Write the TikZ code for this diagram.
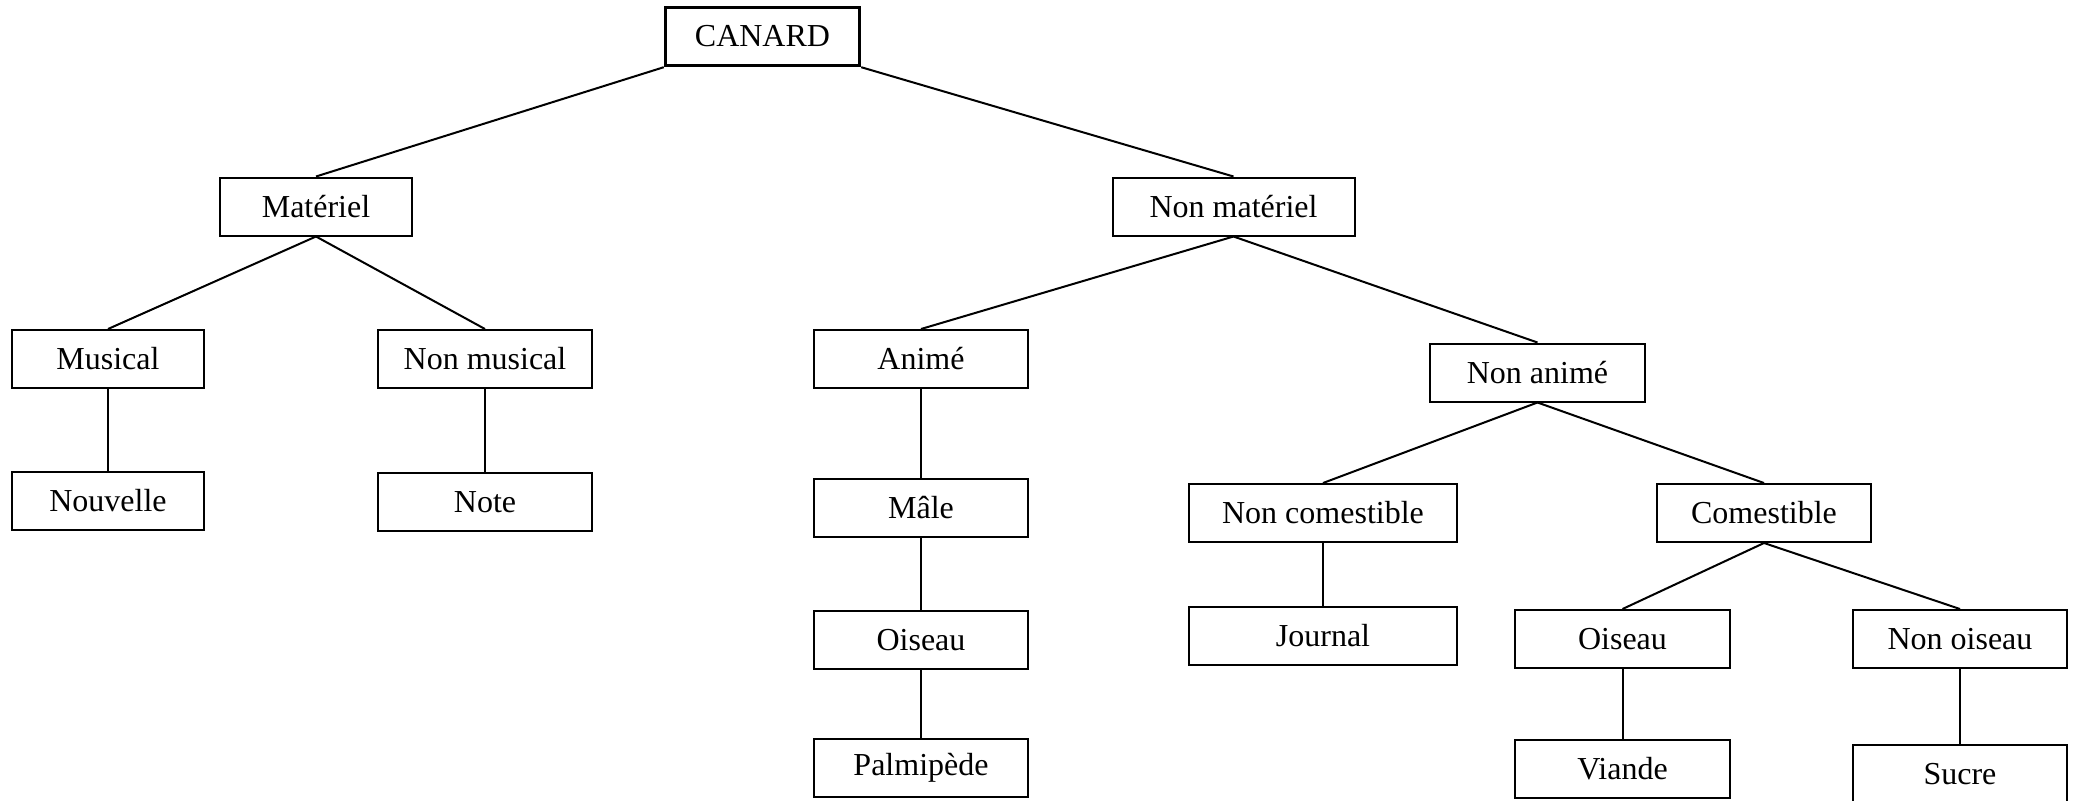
\documentclass[tikz,border=0pt]{standalone}
\usepackage{fontspec}
\setmainfont{Liberation Serif}
\usetikzlibrary{positioning}

\begin{document}
\begin{tikzpicture}[x=0.5pt, y=-0.5pt,
    every node/.style={font=\fontsize{16}{19}\selectfont},
    box/.style={draw, line width=1pt, minimum height=29pt, inner sep=0pt},
    rootbox/.style={box, line width=1.7pt},
    link/.style={line width=1pt}]

  % ---- Frame ----
  \useasboundingbox (0,0) rectangle (2078,800);

  % ---- Root ----
  \node[rootbox, minimum width=97pt] (canard) at (762.5,36.5) {CANARD};

  % ---- Level 1 ----
  \node[box, minimum width=96pt]  (materiel)    at (316,206.5)    {Matériel};
  \node[box, minimum width=121pt] (nonmateriel) at (1233.5,206.5) {Non matériel};

  % ---- Materiel branch ----
  \node[box, minimum width=96pt]  (musical)    at (108,359) {Musical};
  \node[box, minimum width=107pt] (nonmusical) at (485,359) {Non musical};
  \node[box, minimum width=96pt]  (nouvelle)   at (108,501) {Nouvelle};
  \node[box, minimum width=107pt] (note)       at (485,502) {Note};

  % ---- Anime branch ----
  \node[box, minimum width=107pt] (anime)     at (921,359)   {Animé};
  \node[box, minimum width=107pt] (male)      at (921,507.5) {Mâle};
  \node[box, minimum width=107pt] (oiseau)    at (921,640)   {Oiseau};
  \node[box, minimum width=107pt] (palmipede) at (921,767.5) {Palmipède};

  % ---- Non anime branch ----
  \node[box, minimum width=107.5pt] (nonanime)      at (1537.5,372.5) {Non animé};
  \node[box, minimum width=134pt]   (noncomestible) at (1323,513)     {Non comestible};
  \node[box, minimum width=107pt]   (comestible)    at (1764,513)     {Comestible};
  \node[box, minimum width=134pt]   (journal)       at (1323,636)     {Journal};
  \node[box, minimum width=107.5pt] (oiseaub)       at (1622.5,639)   {Oiseau};
  \node[box, minimum width=107pt]   (nonoiseau)     at (1960,639)     {Non oiseau};
  \node[box, minimum width=107.5pt] (viande)        at (1622.5,769)   {Viande};
  \node[box, minimum width=107pt]   (sucre)         at (1960,774)     {Sucre};

  % ---- Links ----
  \draw[link] (canard.south west) -- (materiel.north);
  \draw[link] (canard.south east) -- (nonmateriel.north);

  \draw[link] (materiel.south) -- (musical.north);
  \draw[link] (materiel.south) -- (nonmusical.north);
  \draw[link] (musical) -- (nouvelle);
  \draw[link] (nonmusical) -- (note);

  \draw[link] (nonmateriel.south) -- (anime.north);
  \draw[link] (nonmateriel.south) -- (nonanime.north);
  \draw[link] (anime) -- (male);
  \draw[link] (male) -- (oiseau);
  \draw[link] (oiseau) -- (palmipede);

  \draw[link] (nonanime.south) -- (noncomestible.north);
  \draw[link] (nonanime.south) -- (comestible.north);
  \draw[link] (noncomestible) -- (journal);
  \draw[link] (comestible.south) -- (oiseaub.north);
  \draw[link] (comestible.south) -- (nonoiseau.north);
  \draw[link] (oiseaub) -- (viande);
  \draw[link] (nonoiseau) -- (sucre);

\end{tikzpicture}
\end{document}
